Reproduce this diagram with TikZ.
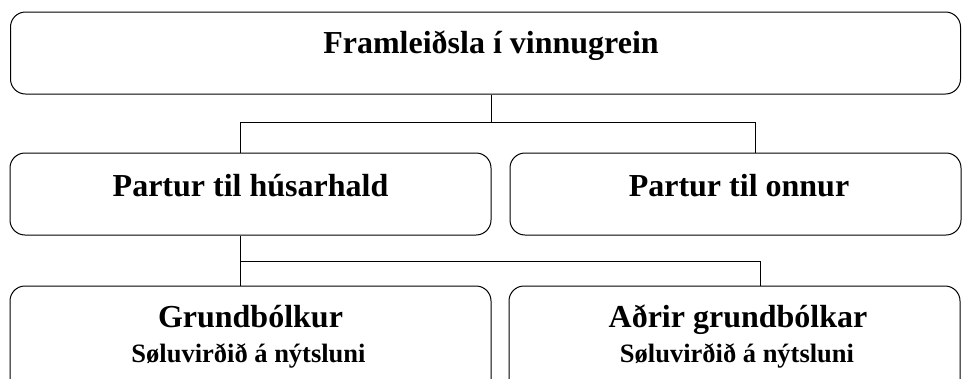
\documentclass[tikz,border=0pt]{standalone}
\usepackage{fontspec}
\setmainfont{Liberation Serif}
\begin{document}
\begin{tikzpicture}[x=1pt,y=-1pt,
  box/.style={draw=black, line width=1pt, rounded corners=15pt, inner sep=0pt},
  big/.style={font=\fontsize{32}{36}\selectfont\bfseries, inner sep=0pt, anchor=base},
  small/.style={font=\fontsize{26.5}{30}\selectfont\bfseries, inner sep=0pt, anchor=base},
  conn/.style={draw=black, line width=1pt}]
\useasboundingbox (0,0) rectangle (962,378);
\clip (0,0) rectangle (962,378);
% boxes
\node[box, minimum width=950pt, minimum height=82pt] (top) at (485.5,53) {};
\node[box, minimum width=481pt, minimum height=82pt] (mL) at (250.5,194) {};
\node[box, minimum width=451pt, minimum height=82pt] (mR) at (735.5,194) {};
\node[box, minimum width=481pt, minimum height=120pt] (bL) at (250.5,346) {};
\node[box, minimum width=451pt, minimum height=120pt] (bR) at (734.5,346) {};
% texts
\node[big] (tTop) at (491,53) {Framleiðsla í vinnugrein};
\node[big] (tmL) at (250.5,196) {Partur til húsarhald};
\node[big] (tmR) at (739,196) {Partur til onnur};
\node[big] (tbL) at (250.5,327) {Grundbólkur};
\node[small] (sbL) at (248.5,362) {Søluvirðið á nýtsluni};
\node[big] (tbR) at (738,327) {Aðrir grundbólkar};
\node[small] (sbR) at (737,362) {Søluvirðið á nýtsluni};
% connectors level 1
\coordinate (j0) at (491,122);
\coordinate (j1) at (240,122);
\coordinate (j2) at (755,122);
\draw[conn] (top.south -| j0) -- (j0);
\draw[conn] (j1 |- mL.north) -- (j1) -- (j2) -- (j2 |- mR.north);
% connectors level 2
\coordinate (k1) at (240,261);
\coordinate (k2) at (760,261);
\draw[conn] (mL.south -| k1) -- (bL.north -| k1);
\draw[conn] (k1) -- (k2) -- (k2 |- bR.north);
\end{tikzpicture}
\end{document}
